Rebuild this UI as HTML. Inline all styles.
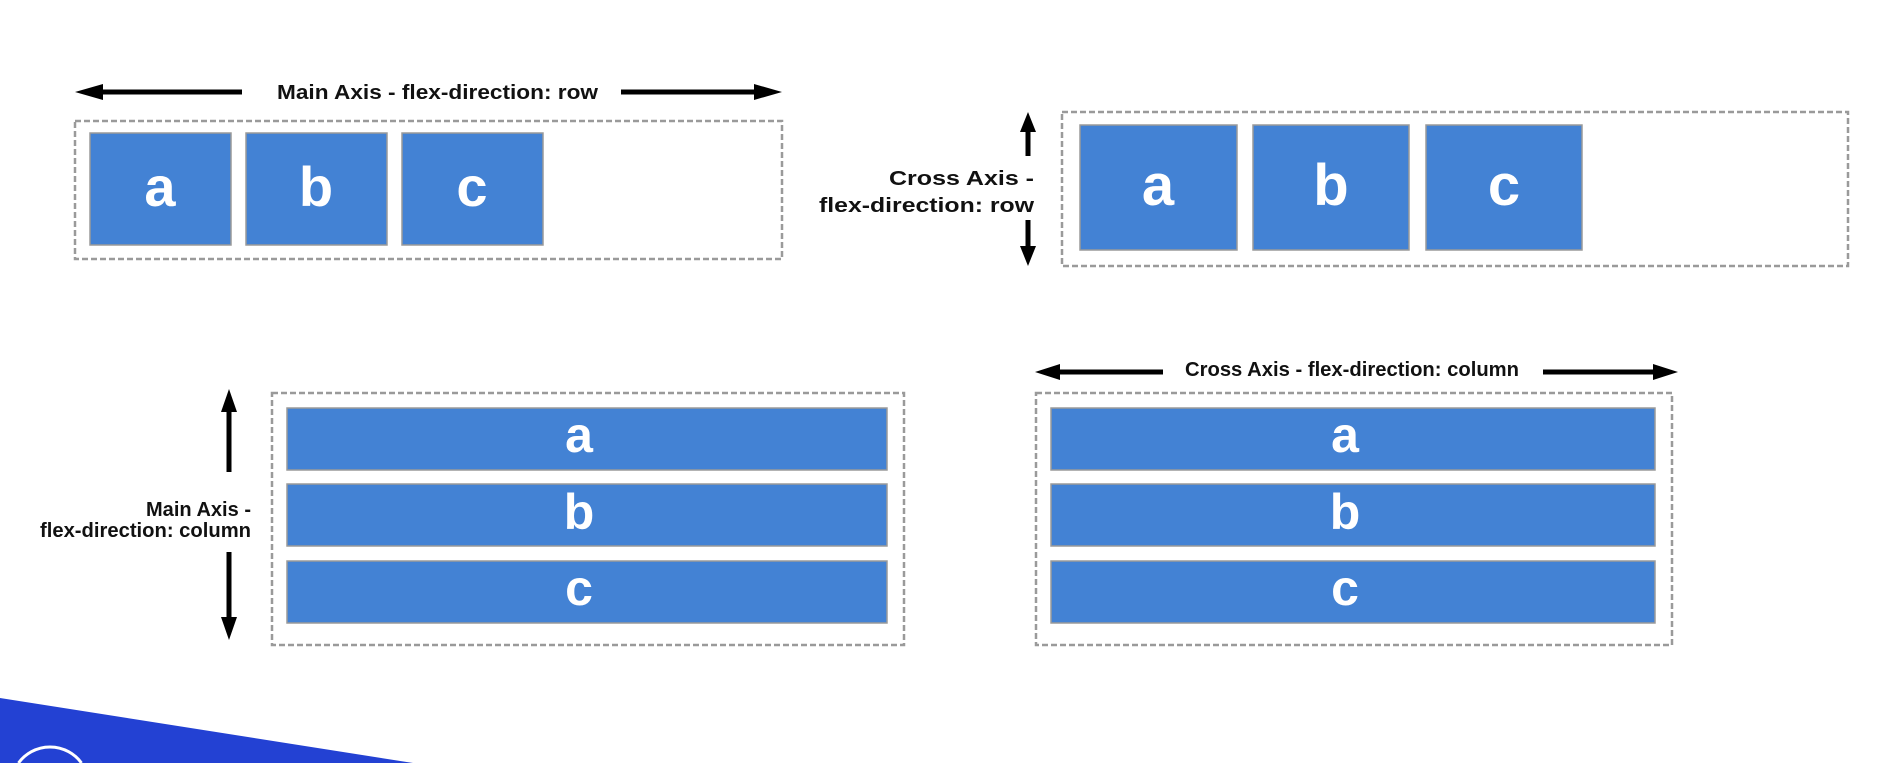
<!DOCTYPE html>
<html><head><meta charset="utf-8"><style>
html,body{margin:0;padding:0;background:#fff;width:1898px;height:763px;overflow:hidden;position:relative}
svg{display:block;position:absolute;left:0;top:0;overflow:hidden}
text{font-family:"Liberation Sans",Arial,sans-serif;font-weight:bold}
.lbl{fill:#111;font-size:20px}
.it{fill:#4382d4;stroke:#9a9a9a;stroke-width:1.5}
.box{fill:none;stroke:#9a9a9a;stroke-width:2.5;stroke-dasharray:6,3}
.L{fill:#fff;text-anchor:middle}
</style></head><body>
<svg width="1898" height="763" viewBox="0 0 1898 763">
<!-- top-left -->
<line x1="95" y1="92" x2="242" y2="92" stroke="#000" stroke-width="5"/>
<polygon points="75,92 103,84 103,100" fill="#000"/>
<line x1="621" y1="92" x2="762" y2="92" stroke="#000" stroke-width="5"/>
<polygon points="782,92 754,84 754,100" fill="#000"/>
<text class="lbl" x="277" y="99" textLength="321" lengthAdjust="spacingAndGlyphs">Main Axis - flex-direction: row</text>
<rect class="box" x="75" y="121" width="707" height="138"/>
<rect class="it" x="90" y="133" width="141" height="112"/>
<rect class="it" x="246" y="133" width="141" height="112"/>
<rect class="it" x="402" y="133" width="141" height="112"/>
<text class="L" x="160" y="206" font-size="56">a</text>
<text class="L" x="316" y="206" font-size="56">b</text>
<text class="L" x="472" y="206" font-size="56">c</text>

<!-- top-right -->
<line x1="1028" y1="128" x2="1028" y2="156" stroke="#000" stroke-width="5"/>
<polygon points="1028,112 1020,132 1036,132" fill="#000"/>
<line x1="1028" y1="220" x2="1028" y2="250" stroke="#000" stroke-width="5"/>
<polygon points="1028,266 1020,246 1036,246" fill="#000"/>
<text class="lbl" x="1034" y="185" text-anchor="end" textLength="145" lengthAdjust="spacingAndGlyphs">Cross Axis -</text>
<text class="lbl" x="1034" y="212" text-anchor="end" textLength="215" lengthAdjust="spacingAndGlyphs">flex-direction: row</text>
<rect class="box" x="1062" y="112" width="786" height="154"/>
<rect class="it" x="1080" y="125" width="157" height="125"/>
<rect class="it" x="1253" y="125" width="156" height="125"/>
<rect class="it" x="1426" y="125" width="156" height="125"/>
<text class="L" x="1158" y="205" font-size="58">a</text>
<text class="L" x="1331" y="205" font-size="58">b</text>
<text class="L" x="1504" y="205" font-size="58">c</text>

<!-- bottom-left -->
<line x1="229" y1="405" x2="229" y2="472" stroke="#000" stroke-width="5"/>
<polygon points="229,389 221,412 237,412" fill="#000"/>
<line x1="229" y1="552" x2="229" y2="622" stroke="#000" stroke-width="5"/>
<polygon points="229,640 221,617 237,617" fill="#000"/>
<text class="lbl" x="251" y="516" text-anchor="end" textLength="105" lengthAdjust="spacingAndGlyphs">Main Axis -</text>
<text class="lbl" x="251" y="537" text-anchor="end" textLength="211" lengthAdjust="spacingAndGlyphs">flex-direction: column</text>
<rect class="box" x="272" y="393" width="632" height="252"/>
<rect class="it" x="287" y="408" width="600" height="62"/>
<rect class="it" x="287" y="484" width="600" height="62"/>
<rect class="it" x="287" y="561" width="600" height="62"/>
<text class="L" x="579" y="452" font-size="50">a</text>
<text class="L" x="579" y="529" font-size="50">b</text>
<text class="L" x="579" y="605" font-size="50">c</text>

<!-- bottom-right -->
<line x1="1052" y1="372" x2="1163" y2="372" stroke="#000" stroke-width="5"/>
<polygon points="1035,372 1060,364 1060,380" fill="#000"/>
<line x1="1543" y1="372" x2="1660" y2="372" stroke="#000" stroke-width="5"/>
<polygon points="1678,372 1653,364 1653,380" fill="#000"/>
<text class="lbl" x="1185" y="376" textLength="334" lengthAdjust="spacingAndGlyphs">Cross Axis - flex-direction: column</text>
<rect class="box" x="1036" y="393" width="636" height="252"/>
<rect class="it" x="1051" y="408" width="604" height="62"/>
<rect class="it" x="1051" y="484" width="604" height="62"/>
<rect class="it" x="1051" y="561" width="604" height="62"/>
<text class="L" x="1345" y="452" font-size="50">a</text>
<text class="L" x="1345" y="529" font-size="50">b</text>
<text class="L" x="1345" y="605" font-size="50">c</text>

<!-- bottom-left decoration -->
<polygon points="0,698 413,763 0,763" fill="#2341d3"/>
<path d="M18.5,763 A39,39 0 0 1 81.5,763" fill="none" stroke="#fff" stroke-width="3"/>
</svg>
</body></html>
